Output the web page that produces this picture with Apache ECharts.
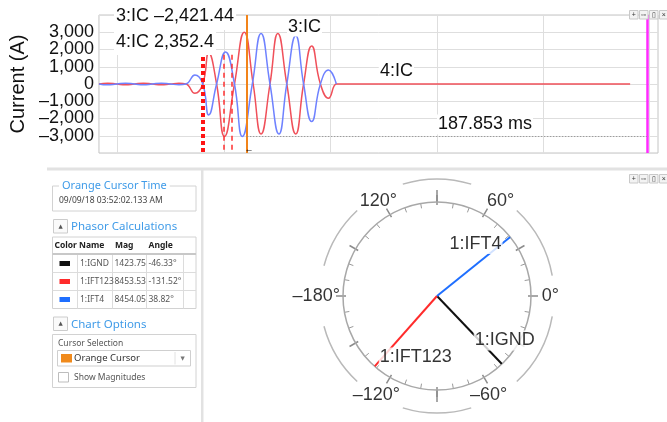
<!DOCTYPE html>
<html><head><meta charset="utf-8">
<script src="https://cdn.jsdelivr.net/npm/echarts@6/dist/echarts.min.js"></script>
<style>html,body{margin:0;padding:0;background:#fff}#c{width:667px;height:422px}</style>
</head><body><div id="c"></div>
<script>
// ---------- waveform data (time in ms, current in A) ----------
const t3 = [-8.8,-4.7,-0.5,3.7,7.9,12.1,16.3,20.5,24.7,28.8,32.1,36.3,40.0,42.8,46.5,50.7,54.9,58.6,63.3,67.4,71.6,75.8,79.5,83.7,87.4,91.2,95.3,99.1,102.8];
const v3 = [0,-50,0,50,0,-50,0,50,0,-40,0,520,0,-1790,0,1850,0,-3040,0,2925,0,-2900,0,2790,0,-2180,0,808,0];
const t4 = [-8.8,-4.7,-0.5,3.7,7.9,12.1,16.3,20.5,24.7,28.8,32.1,36.3,40.0,42.8,46.5,50.2,54.9,59.5,63.7,67.4,71.6,75.3,79.5,83.7,87.4,91.2,95.3,99.1,102.8,104.0,240.9];
const v4 = [0,50,0,-50,0,50,0,-50,0,40,0,-540,0,1790,0,-3040,0,3000,0,-2900,0,2925,0,-2900,0,2210,0,-825,0,0,0];
const xGridTimes = [0,50,100,150,200,250];
const yTicks = [-3000,-2000,-1000,0,1000,2000,3000];
const yTickText = ['\u20133,000','\u20132,000','\u20131,000','0','1,000','2,000','3,000'];
// cursors (ms)
const redThickCursor = 40.0;
const redDashCursors = [49.8, 53.7];
const orangeCursor = 60.9;
const magentaCursor = 248.75;
const troughLevel = -3050;
const cursorReadouts = ['3:IC \u20132,421.44', '4:IC 2,352.4'];
const deltaText = '187.853 ms';
const seriesNames = ['3:IC', '4:IC'];
// ---------- phasor data ----------
const phasorNames = ['1:IGND', '1:IFT123', '1:IFT4'];
const phasorMags = [1423.75, 8453.53, 8454.05];
const phasorAngles = [-46.33, -131.52, 38.82];
const phasorUnit = [1, 1, 1]; // magnitudes not shown -> unit vectors
const angleTicks = [-180,-120,-60,0,60,120];
const angleTickText = ['\u2013180\u00b0','\u2013120\u00b0','\u201360\u00b0','0\u00b0','60\u00b0','120\u00b0'];
const cursorTimeText = '09/09/18 03:52:02.133 AM';

// ---------- styles ----------
const phasorColors = ['#111111', '#ff2b2b', '#1f6fff'];
const CX = 437, CY = 296, R = 94;
const F = 'Liberation Sans';
const UI = 'Noto Sans';
const BLUE_UI = '#3f9be8';

function T(x, y, text, size, color, o) {
  o = o || {};
  const st = { text, fill: color, font: (o.w || 'normal') + ' ' + size + 'px ' + (o.f || F),
    align: o.a || 'left', verticalAlign: o.va || 'middle' };
  if (o.bg) { st.backgroundColor = o.bg; st.padding = o.pad || [0, 0]; }
  return { type: 'text', x, y, z: 100, silent: true, style: st };
}
function Rc(x, y, w, h, fill, stroke, lw) {
  return { type: 'rect', z: 90, silent: true, shape: { x, y, width: w, height: h },
    style: { fill: fill || 'none', stroke: stroke || null, lineWidth: lw || 1 } };
}
function L(x1, y1, x2, y2, stroke, lw) {
  return { type: 'line', z: 91, silent: true, shape: { x1, y1, x2, y2 }, style: { stroke, lineWidth: lw || 1 } };
}

const g = [];
// dividers
g.push(Rc(47, 167.5, 620, 3, '#e2e2e2'));
g.push(Rc(201, 170, 2.5, 252, '#e2e2e2'));
// toolbar icons
function toolbar(y) {
  const gl = ['+', '\u25ab\u25ab', '\u25af', '\u00d7'];
  [629, 639, 649, 659].forEach((x, i) => {
    g.push(Rc(x + 0.5, y + 0.5, 8.5, 8.5, '#f3f3f3', '#c9c9c9'));
    g.push(T(x + 4.8, y + 5, gl[i], 7, '#333', { a: 'center' }));
  });
}
toolbar(10); toolbar(174);
// top chart annotations
g.push(T(114, 16.5, cursorReadouts[0], 18, '#111', { bg: '#fff', pad: [5, 2, 4, 2] }));
g.push(T(114, 42, cursorReadouts[1], 18, '#111', { bg: '#fff', pad: [4, 2, 4, 2] }));
g.push(T(287, 27.5, seriesNames[0], 18, '#111', { bg: '#fff', pad: [0, 1] }));
g.push(T(379, 71.5, seriesNames[1], 18, '#111', { bg: '#fff', pad: [0, 1] }));
g.push(T(437, 124.5, deltaText, 18, '#111', { bg: '#fff', pad: [1, 1] }));
g.push(T(249, 150, '\u2190', 9, '#111', { a: 'center', w: 'bold' }));
// outer ring arcs
[[10,47],[73,107],[133,165],[195,227],[253,287],[313,350]].forEach(s => {
  g.push({ type: 'arc', z: 1, silent: true,
    shape: { cx: CX, cy: CY, r: 117, startAngle: -s[1] * Math.PI / 180, endAngle: -s[0] * Math.PI / 180, clockwise: true },
    style: { stroke: '#b9b9b9', fill: 'none', lineWidth: 1.5 } });
});
// left panel
g.push(Rc(52.5, 186, 143.5, 25, null, '#d2d2d2'));
g.push(T(59, 186, 'Orange Cursor Time', 11, BLUE_UI, { f: UI, bg: '#fff', pad: [0, 3] }));
g.push(T(59, 201, cursorTimeText, 8.5, '#444', { f: UI }));
function collapse(y, label) {
  g.push(Rc(53.5, y, 14, 13.5, '#fafafa', '#cccccc'));
  g.push(T(60.5, y + 7, '\u25b2', 5.5, '#555', { a: 'center', f: 'DejaVu Sans' }));
  g.push(T(71, y + 7.5, label, 11.5, BLUE_UI, { f: UI }));
}
collapse(219.5, 'Phasor Calculations');
// table
g.push(Rc(52.5, 237, 143.5, 71.5, null, '#d2d2d2'));
[['Color', 54.5], ['Name', 79], ['Mag', 115], ['Angle', 148.5]].forEach(h => g.push(T(h[1], 246, h[0], 8.5, '#222', { f: UI, w: 'bold' })));
g.push(L(52.5, 254, 196, 254, '#c8c8c8', 2));
g.push(L(52.5, 272.5, 196, 272.5, '#dcdcdc', 1));
g.push(L(52.5, 290.5, 196, 290.5, '#dcdcdc', 1));
[77.5, 112.5, 146.5, 183.5].forEach(x => g.push(L(x, 255, x, 308.5, '#dcdcdc', 1)));
phasorNames.forEach((n, i) => {
  const y = 263.5 + i * 18;
  g.push(Rc(59.5, y - 2.5, 10.5, 5, phasorColors[i]));
  g.push(T(80, y, n, 8.5, '#555', { f: UI }));
  g.push(T(114.5, y, phasorMags[i].toFixed(2), 8.5, '#555', { f: UI }));
  g.push(T(148.5, y, phasorAngles[i].toFixed(2) + '\u00b0', 8.5, '#555', { f: UI }));
});
collapse(317, 'Chart Options');
g.push(Rc(52.5, 334.5, 143.5, 53, null, '#d2d2d2'));
g.push(T(58, 343.5, 'Cursor Selection', 8.5, '#555', { f: UI }));
g.push(Rc(57.5, 350.5, 133, 15.5, '#fff', '#cfcfcf'));
g.push(Rc(61, 354, 11, 8.5, '#f08a1c'));
g.push(T(74, 358.5, 'Orange Cursor', 9.5, '#333', { f: UI }));
g.push(L(175, 352, 175, 364.5, '#e2e2e2', 1));
g.push(T(182.5, 358.5, '\u25bc', 5.5, '#777', { a: 'center', f: 'DejaVu Sans' }));
g.push(Rc(58.5, 372.5, 10, 9.5, '#fff', '#bdbdbd'));
g.push(T(74, 377.5, 'Show Magnitudes', 8.5, '#555', { f: UI }));

const pair = (ts, vs) => ts.map((t, i) => [t, vs[i]]);
const angleBase = { type: 'value', min: -180, max: 180, interval: 30, startAngle: 180, clockwise: false,
  splitLine: { show: false }, splitArea: { show: false } };

const labelOffsets = [[19, -6.5], [25.5, 8.7], [-16.4, -7.8]];
const angleLabelOffsets = [[-7.5, 0], [-4, 1], [-5, 1], [0, 0], [7, 3], [-2, 3]];

const option = {
  animation: false,
  grid: { left: 93, right: 9, top: 15, bottom: 269, show: true, borderColor: '#c4c4c4', borderWidth: 1, backgroundColor: 'transparent' },
  xAxis: { type: 'value', min: -8.8, max: 254, axisLine: { show: false }, axisTick: { show: false }, axisLabel: { show: false }, splitLine: { show: false } },
  yAxis: { type: 'value', min: -4000, max: 4000, interval: 1000,
    name: 'Current (A)', nameLocation: 'middle', nameGap: 68, nameRotate: 90,
    nameTextStyle: { fontSize: 20, fontFamily: F, color: '#111' },
    axisLine: { show: false }, axisTick: { show: false },
    axisLabel: { fontSize: 18, fontFamily: F, color: '#111', margin: 5,
      formatter: v => { const i = yTicks.indexOf(v); return i >= 0 ? yTickText[i] : ''; } },
    splitLine: { lineStyle: { color: '#dedede', width: 1 } } },
  polar: [{ center: [CX, CY], radius: R }, { center: [CX, CY], radius: R }, { center: [CX, CY], radius: R }],
  angleAxis: [
    Object.assign({}, angleBase, { polarIndex: 0,
      axisLine: { show: true, lineStyle: { color: '#a8a8a8', width: 1.5 } },
      axisTick: { show: true, inside: true, length: 3, lineStyle: { color: '#8c8c8c', width: 1.5 } },
      minorTick: { show: true, splitNumber: 3, length: 5, lineStyle: { color: '#999', width: 1 } },
      minorSplitLine: { show: false },
      axisLabel: { show: false } }),
    Object.assign({}, angleBase, { polarIndex: 1,
      axisLine: { show: false },
      axisTick: { show: true, length: 7, lineStyle: { color: '#8c8c8c', width: 1.5 } },
      axisLabel: { show: false } }),
    { polarIndex: 2, type: 'value', min: 0, max: 360, interval: 180, startAngle: 90, clockwise: false,
      splitLine: { show: false }, axisLine: { show: false }, axisLabel: { show: false },
      axisTick: { show: true, length: 12, lineStyle: { color: '#8c8c8c', width: 1.5 } } }
  ],
  radiusAxis: [
    { polarIndex: 0, min: 0, max: 1, show: false },
    { polarIndex: 1, min: 0, max: 1, show: false },
    { polarIndex: 2, min: 0, max: 1, show: false }
  ],
  series: [
    { name: seriesNames[1], type: 'line', data: pair(t4, v4), smooth: 0.5, symbol: 'none', silent: true,
      lineStyle: { color: '#f0505a', width: 1.5 }, z: 2,
      markLine: { z: 1, silent: true, symbol: ['none', 'none'], label: { show: false },
        lineStyle: { color: '#dedede', width: 1, type: 'solid' },
        data: xGridTimes.map(t => ({ xAxis: t })) } },
    { name: seriesNames[0], type: 'line', data: pair(t3, v3), smooth: 0.5, symbol: 'none', silent: true,
      lineStyle: { color: '#6f82ff', width: 1.5 }, z: 3,
      markLine: { z: 6, silent: true, symbol: ['none', 'none'], label: { show: false },
        data: [
          [{ coord: [redThickCursor, 1560], lineStyle: { color: '#ff1414', width: 4, type: [4, 3] } }, { coord: [redThickCursor, -4000] }],
          ...redDashCursors.map(t => [{ coord: [t, 1700], lineStyle: { color: '#ff3030', width: 1.5, type: [5, 4] } }, { coord: [t, -4000] }]),
          { xAxis: orangeCursor, lineStyle: { color: '#f2841a', width: 2, type: 'solid' } },
          { xAxis: magentaCursor, lineStyle: { color: '#ff2bff', width: 2.5, type: 'solid' } },
          [{ coord: [orangeCursor, troughLevel], lineStyle: { color: '#8a8a8a', width: 1, type: [1, 2] } }, { coord: [magentaCursor, troughLevel] }]
        ] } },
    ...phasorAngles.map((a, i) => ({
      type: 'line', coordinateSystem: 'polar', polarIndex: 0, symbol: 'none', silent: true, z: 3,
      data: [[0, a], [phasorUnit[i], a]], lineStyle: { color: phasorColors[i], width: 2 } })),
    { type: 'scatter', coordinateSystem: 'polar', polarIndex: 0, silent: true, z: 4, symbolSize: 1, clip: false,
      itemStyle: { color: 'transparent' },
      data: phasorAngles.map((a, i) => ({ value: [0.75 * phasorUnit[i], a], label: { offset: labelOffsets[i] } })),
      label: { show: true, position: 'inside', fontSize: 18, fontFamily: F, color: '#000', textBorderWidth: 0,
        backgroundColor: '#fff', padding: [1, 1], formatter: p => phasorNames[p.dataIndex] } },
    { type: 'scatter', coordinateSystem: 'polar', polarIndex: 1, silent: true, z: 4, symbolSize: 1, clip: false,
      itemStyle: { color: 'transparent' },
      data: angleTicks.map((a, i) => ({ value: [1.205, a], label: { offset: angleLabelOffsets[i] } })),
      label: { show: true, position: 'inside', fontSize: 18, fontFamily: F, color: '#000', textBorderWidth: 0,
        formatter: p => angleTickText[p.dataIndex] } }
  ],
  graphic: { elements: g }
};
const chart = echarts.init(document.getElementById('c'), null, { renderer: 'canvas', width: 667, height: 422 });
chart.setOption(option);
</script></body></html>
